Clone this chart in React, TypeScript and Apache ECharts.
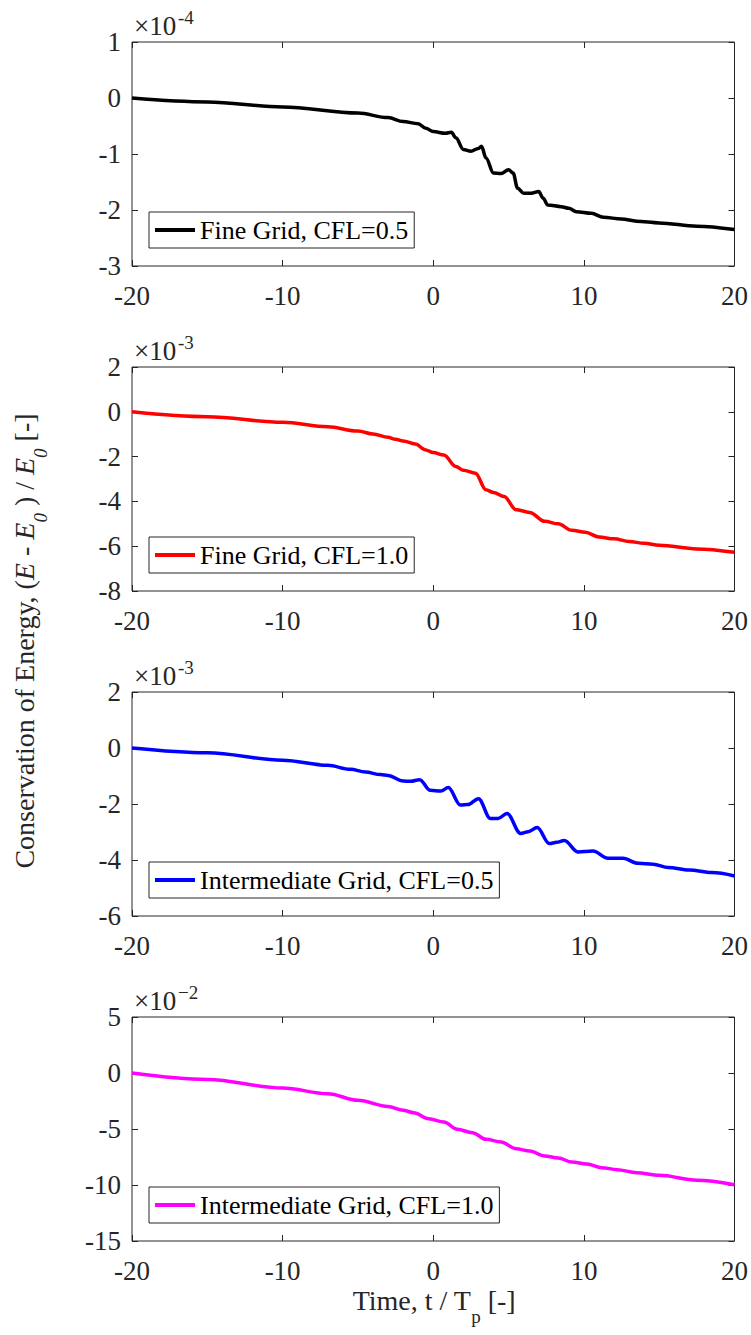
import React, { useEffect, useRef } from "react";
import * as echarts from "echarts";

// Panel 1: Fine Grid, CFL=0.5 (values ×1e-4)
const t1 = [-20, -15, -10, -5, -3, -2, -1, -0.5, 0, 0.8, 1.2, 1.5, 2, 2.5, 3, 3.2, 3.5, 4, 4.5, 5, 5.3, 5.6, 6, 6.5, 7, 7.3, 7.6, 8.5, 9, 9.5, 10.5, 11.3, 12.5, 13.5, 15, 17.5, 20];
const v1 = [0, -0.07, -0.16, -0.27, -0.35, -0.42, -0.46, -0.54, -0.6, -0.63, -0.61, -0.71, -0.92, -0.95, -0.9, -0.86, -1.07, -1.34, -1.35, -1.28, -1.34, -1.61, -1.7, -1.7, -1.67, -1.79, -1.91, -1.94, -1.97, -2.03, -2.06, -2.13, -2.16, -2.2, -2.23, -2.29, -2.35];

// Panel 2: Fine Grid, CFL=1.0 (values ×1e-3)
const t2 = [-20, -15, -10, -7, -5, -4, -3, -2.5, -2, -1.2, -0.5, 0, 0.7, 1.5, 2, 2.8, 3.5, 4, 4.7, 5.5, 6.4, 7.4, 8.3, 9.2, 10.1, 11, 12, 13, 14, 15, 17.5, 20];
const v2 = [0, -0.22, -0.47, -0.67, -0.86, -0.99, -1.14, -1.23, -1.3, -1.44, -1.7, -1.82, -1.93, -2.44, -2.61, -2.74, -3.48, -3.6, -3.78, -4.37, -4.49, -4.89, -5.0, -5.29, -5.38, -5.59, -5.67, -5.79, -5.87, -5.96, -6.12, -6.27];

// Panel 3: Intermediate Grid, CFL=0.5 (values ×1e-3)
const t3 = [-20, -15, -10, -7, -5.5, -4.5, -3.5, -3, -2, -1.5, -0.9, -0.2, 0.5, 1, 1.8, 2.3, 3, 3.8, 4.3, 4.9, 5.8, 6.3, 6.9, 7.7, 8.2, 8.7, 9.6, 10.6, 11.6, 12.6, 13.6, 14.6, 15.6, 17, 18.5, 20];
const v3 = [0, -0.17, -0.44, -0.62, -0.76, -0.86, -0.95, -0.98, -1.18, -1.19, -1.13, -1.51, -1.54, -1.41, -2.04, -2.02, -1.81, -2.52, -2.52, -2.34, -3.05, -2.99, -2.84, -3.41, -3.37, -3.3, -3.71, -3.68, -3.94, -3.94, -4.12, -4.15, -4.27, -4.36, -4.45, -4.57];

// Panel 4: Intermediate Grid, CFL=1.0 (values ×1e-2)
const t4 = [-20, -15, -10, -7, -5, -3, -2, -1.3, -0.3, 0.7, 1.6, 2.6, 3.5, 4.5, 5.5, 6.4, 7.4, 8.3, 9.2, 10.2, 11.2, 12.2, 13.5, 15, 17.5, 20];
const v4 = [0, -0.57, -1.34, -1.85, -2.44, -2.98, -3.33, -3.54, -4.08, -4.38, -5.03, -5.33, -5.92, -6.16, -6.76, -6.96, -7.41, -7.59, -7.95, -8.13, -8.45, -8.63, -8.9, -9.14, -9.58, -9.97];

const names = ["Fine Grid, CFL=0.5", "Fine Grid, CFL=1.0", "Intermediate Grid, CFL=0.5", "Intermediate Grid, CFL=1.0"];
const colors = ["#000000", "#ff0000", "#0000ff", "#ff00ff"];
const times = [t1, t2, t3, t4];
const values = [v1, v2, v3, v4];
const yMin = [-3, -8, -6, -15];
const yMax = [1, 2, 2, 5];
const yStep = [1, 2, 2, 5];
const exponents = ["-4", "-3", "-3", "\u22122"];
const xTicks = { min: -20, max: 20, interval: 10 };

const FONT = "'Liberation Serif', 'Times New Roman', serif";
const AX = "#262626";

export default function App() {
  const ref = useRef<HTMLDivElement>(null);
  useEffect(() => {
    if (!ref.current) return;
    const chart = echarts.init(ref.current, undefined, { renderer: "svg" });
    const tops = [42, 367, 692, 1017];
    const H = 224;
    const L = 132;
    const W = 604;
    const grids: any[] = [];
    const xAxes: any[] = [];
    const yAxes: any[] = [];
    const series: any[] = [];
    const legends: any[] = [];
    const graphics: any[] = [];
    const tick = { inside: true, length: 6, lineStyle: { color: AX } };
    tops.forEach((top, i) => {
      grids.push({ left: L, top, width: W, height: H, show: true, borderColor: AX, borderWidth: 1, backgroundColor: "#fff" });
      xAxes.push({
        type: "value", gridIndex: i, min: xTicks.min, max: xTicks.max, interval: xTicks.interval,
        axisLine: { show: false, onZero: false }, splitLine: { show: false }, axisTick: tick,
        axisLabel: { fontFamily: FONT, fontSize: 27, color: AX, margin: 16, showMinLabel: true, showMaxLabel: true },
      });
      xAxes.push({
        type: "value", gridIndex: i, position: "top", min: xTicks.min, max: xTicks.max, interval: xTicks.interval,
        axisLine: { show: false, onZero: false }, splitLine: { show: false }, axisTick: tick, axisLabel: { show: false },
      });
      yAxes.push({
        type: "value", gridIndex: i, min: yMin[i], max: yMax[i], interval: yStep[i],
        axisLine: { show: false, onZero: false }, splitLine: { show: false }, axisTick: tick,
        axisLabel: { fontFamily: FONT, fontSize: 27, color: AX, margin: 11 },
      });
      yAxes.push({
        type: "value", gridIndex: i, position: "right", min: yMin[i], max: yMax[i], interval: yStep[i],
        axisLine: { show: false, onZero: false }, splitLine: { show: false }, axisTick: tick, axisLabel: { show: false },
      });
      series.push({
        name: names[i], type: "line", xAxisIndex: 2 * i, yAxisIndex: 2 * i,
        data: times[i].map((t, k) => [t, values[i][k]]),
        showSymbol: false, symbol: "none", smooth: 0.35, smoothMonotone: "x",
        lineStyle: { color: colors[i], width: 3.5 }, itemStyle: { color: colors[i] },
      });
      legends.push({
        data: [names[i]], left: 149, top: top + H - 54, orient: "horizontal",
        borderColor: AX, borderWidth: 1, borderRadius: 0, backgroundColor: "#fff",
        padding: [5, 6, 5, 6], icon: "rect", itemWidth: 40, itemHeight: 4, itemGap: 4,
        textStyle: { fontFamily: FONT, fontSize: 26, color: "#000" },
        selectedMode: false,
      });
      graphics.push({ type: "text", left: 134, top: top - 30, style: { text: "\u00d710", fontFamily: FONT, fontSize: 27, fill: AX } });
      graphics.push({ type: "text", left: 178, top: top - 34, style: { text: exponents[i], fontFamily: FONT, fontSize: 19, fill: AX } });
    });
    graphics.push({
      type: "text", x: 434, y: 1306,
      style: {
        text: "{n|Time, t / T}{s|p}{n| [-]}", align: "center", verticalAlign: "middle",
        fontFamily: FONT, fontSize: 28,
        rich: {
          n: { fontFamily: FONT, fontSize: 28, fill: AX, lineHeight: 40, verticalAlign: "top" },
          s: { fontFamily: FONT, fontSize: 19, fill: AX, lineHeight: 40, verticalAlign: "bottom" },
        },
      },
    });
    graphics.push({
      type: "text", x: 30, y: 641, rotation: Math.PI / 2,
      style: {
        text: "{n|Conservation of Energy, (}{i|E}{n| - }{i|E}{s|0}{n| ) / }{i|E}{s|0}{n| [-]}",
        align: "center", verticalAlign: "middle",
        fontFamily: FONT, fontSize: 28,
        rich: {
          n: { fontFamily: FONT, fontSize: 28, fill: AX, lineHeight: 40, verticalAlign: "top" },
          i: { fontFamily: FONT, fontSize: 28, fontStyle: "italic", fill: AX, lineHeight: 40, verticalAlign: "top" },
          s: { fontFamily: FONT, fontSize: 19, fontStyle: "italic", fill: AX, lineHeight: 40, verticalAlign: "bottom" },
        },
      },
    });
    chart.setOption({
      animation: false,
      backgroundColor: "#fff",
      textStyle: { fontFamily: FONT },
      grid: grids, xAxis: xAxes, yAxis: yAxes, series, legend: legends, graphic: graphics,
    });
    return () => chart.dispose();
  }, []);
  return <div ref={ref} style={{ position: "fixed", left: 0, top: 0, width: 751, height: 1335, background: "#fff" }} />;
}
